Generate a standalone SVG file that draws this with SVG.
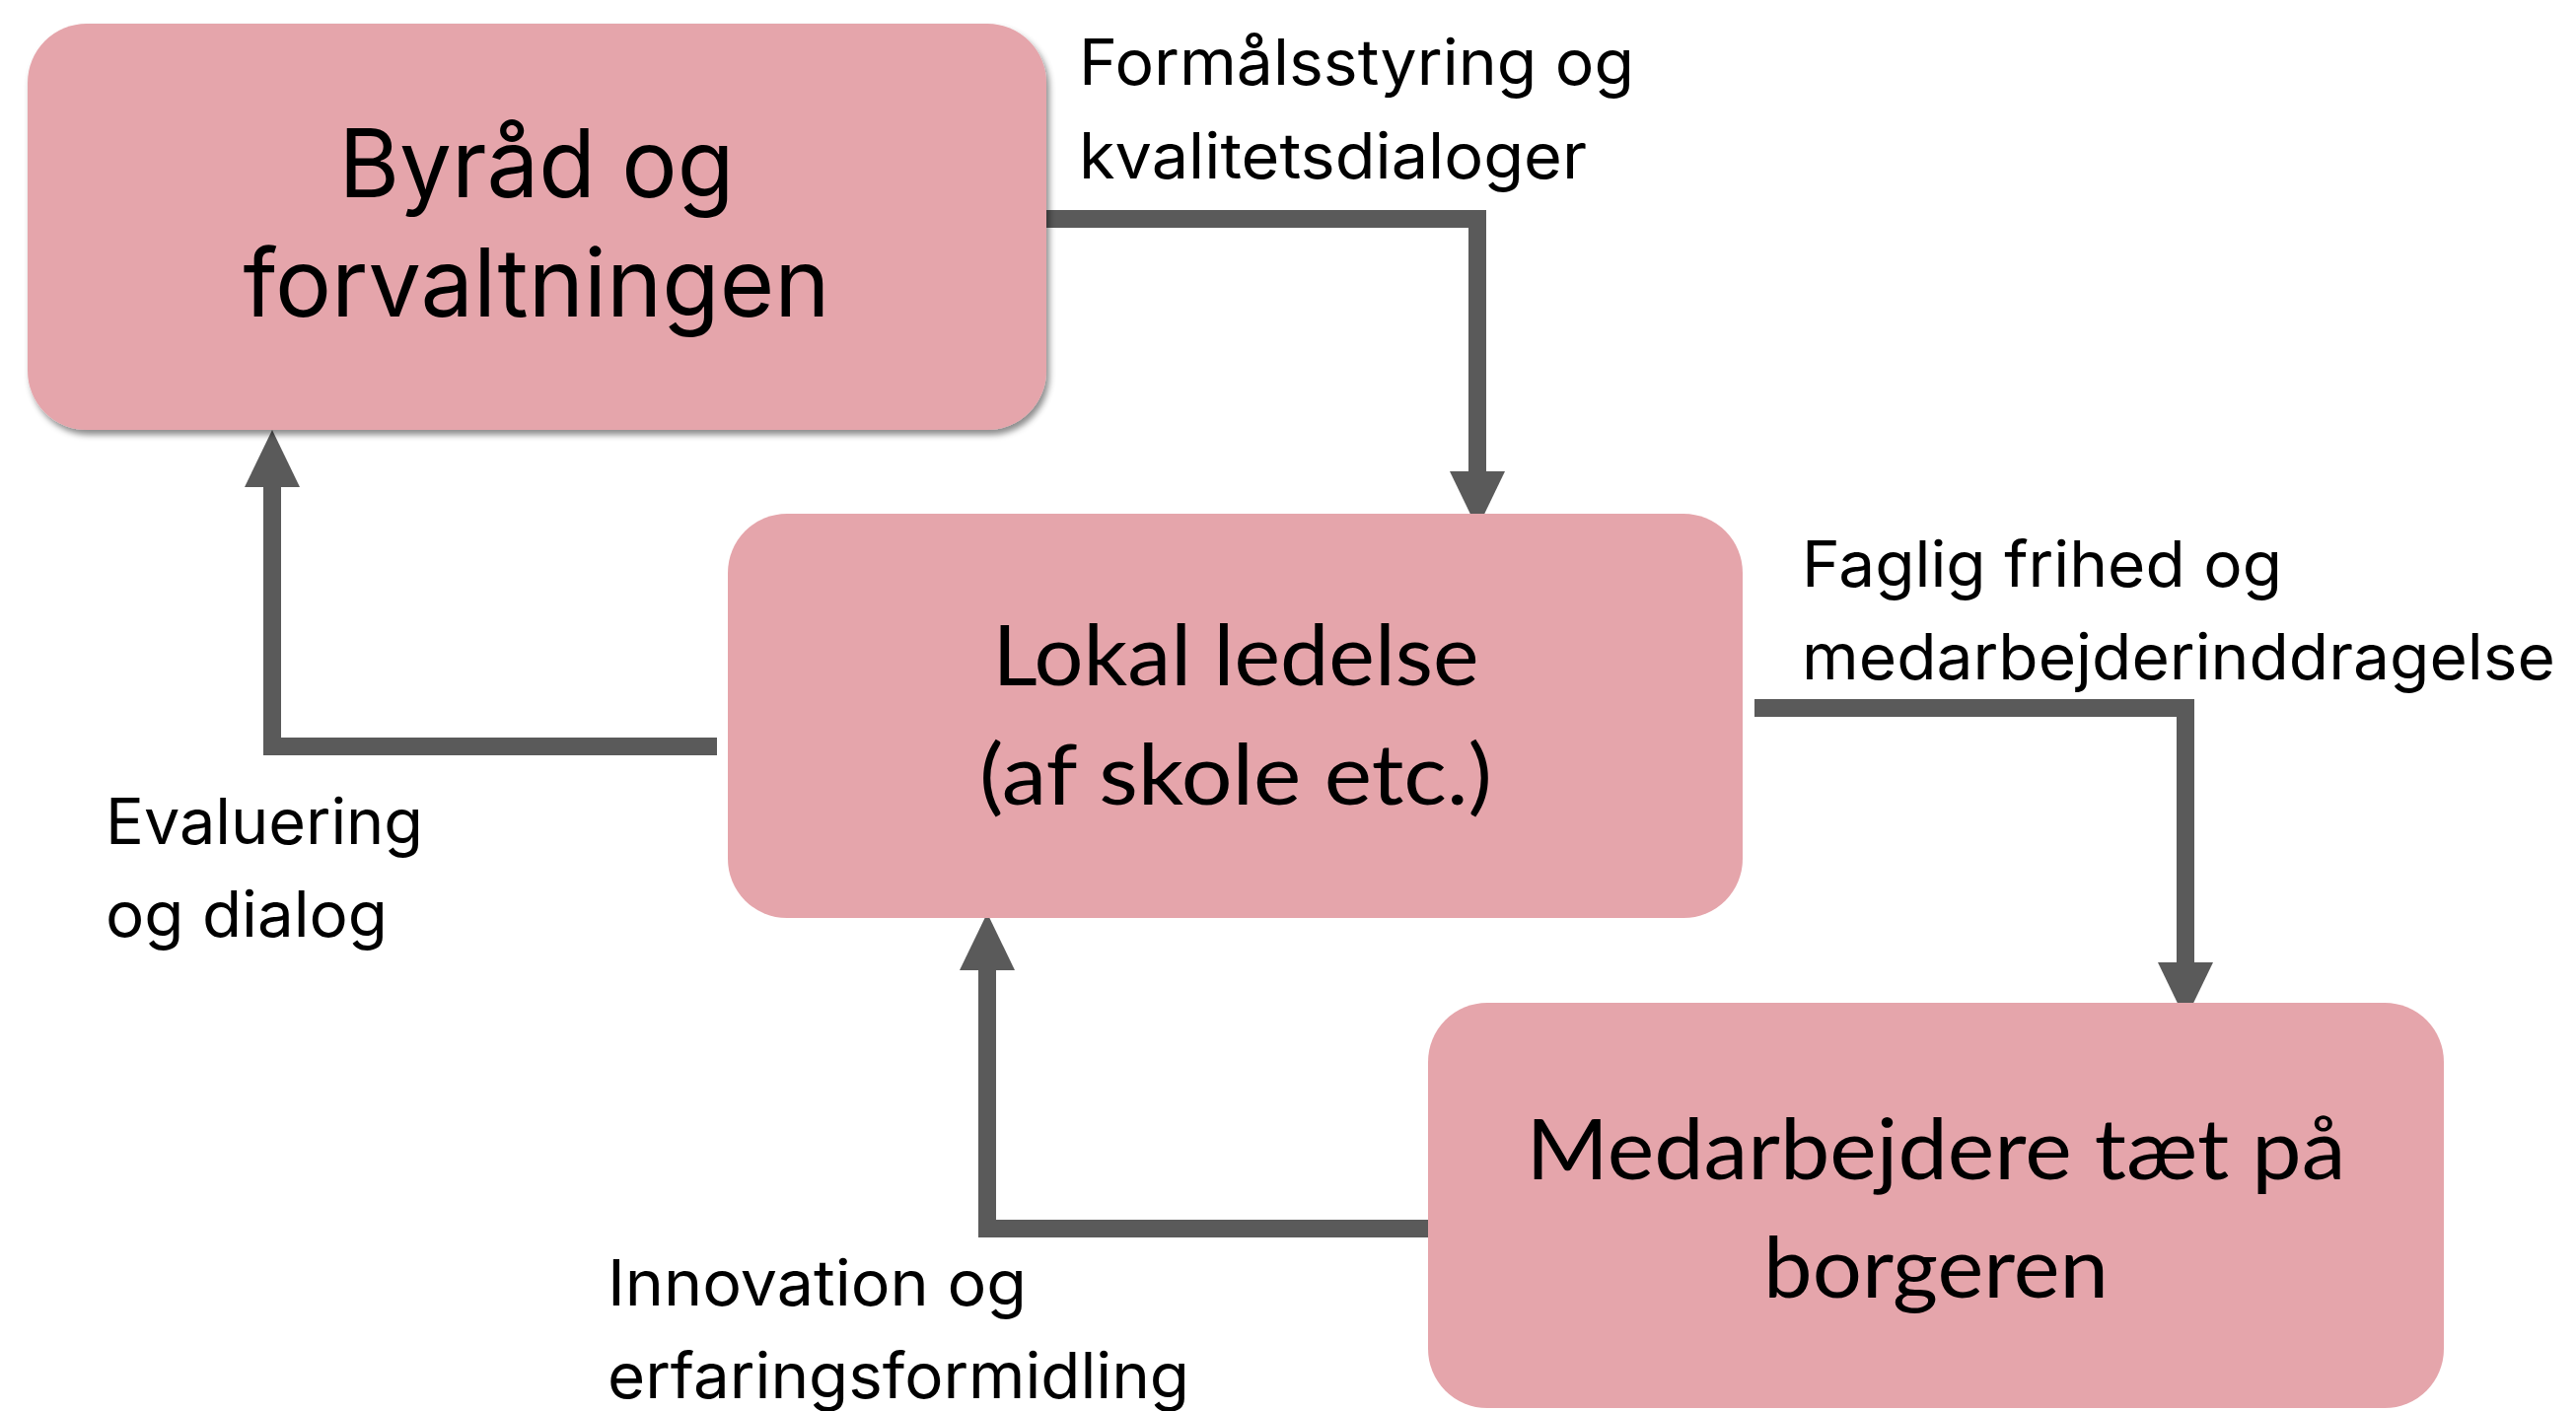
<svg xmlns="http://www.w3.org/2000/svg" width="2612" height="1431" viewBox="0 0 2612 1431">
<style>
.box{fill:#E5A5AB}
.t1{font-family:Inter,"Noto Sans",sans-serif;font-size:96px;fill:#000;text-anchor:middle}
.t2{font-family:Lato,"Noto Sans",sans-serif;font-size:86px;fill:#000;text-anchor:middle}
.lbl{font-family:Inter,"Noto Sans",sans-serif;font-size:64px;fill:#000}
.conn{fill:none;stroke:#5A5A5A;stroke-width:18;stroke-linejoin:miter;marker-end:url(#ah)}
</style>
<defs>
<filter id="sh" x="-5%" y="-5%" width="115%" height="120%">
<feDropShadow dx="3" dy="5" stdDeviation="3" flood-color="#000" flood-opacity="0.45"/>
</filter>
<marker id="ah" viewBox="0 0 58 56" refX="0" refY="28" markerWidth="58" markerHeight="56" markerUnits="userSpaceOnUse" orient="auto">
<path d="M0,0 L58,28 L0,56 Z" fill="#5A5A5A"/>
</marker>
</defs>
<rect width="2612" height="1431" fill="#fff"/>
<g id="connectors">
<path class="conn" d="M1059,222 H1498 V478"/>
<path class="conn" d="M1779,718 H2216 V976"/>
<path class="conn" d="M727,757 H276 V494"/>
<path class="conn" d="M1448,1246 H1001 V984"/>
</g>
<g id="node-byraad">
<rect class="box" x="28" y="24" width="1033" height="412" rx="60" ry="60" filter="url(#sh)"/>
<text class="t1" x="544" y="200" textLength="401" lengthAdjust="spacingAndGlyphs">Byråd og</text>
<text class="t1" x="544" y="321" textLength="595" lengthAdjust="spacingAndGlyphs">forvaltningen</text>
</g>
<g id="node-lokal">
<rect class="box" x="738" y="521" width="1029" height="410" rx="60" ry="60"/>
<text class="t2" x="1253" y="695" textLength="493" lengthAdjust="spacingAndGlyphs">Lokal ledelse</text>
<text class="t2" x="1253" y="816" textLength="520" lengthAdjust="spacingAndGlyphs">(af skole etc.)</text>
</g>
<g id="node-medarbejdere">
<rect class="box" x="1448" y="1017" width="1030" height="411" rx="60" ry="60"/>
<text class="t2" x="1963" y="1196" textLength="831" lengthAdjust="spacingAndGlyphs">Medarbejdere tæt på</text>
<text class="t2" x="1963" y="1316" textLength="350" lengthAdjust="spacingAndGlyphs">borgeren</text>
</g>
<g id="labels">
<text class="lbl" x="1094" y="86" textLength="563" lengthAdjust="spacingAndGlyphs">Formålsstyring og</text>
<text class="lbl" x="1094" y="181" textLength="515" lengthAdjust="spacingAndGlyphs">kvalitetsdialoger</text>
<text class="lbl" x="1827" y="595" textLength="487" lengthAdjust="spacingAndGlyphs">Faglig frihed og</text>
<text class="lbl" x="1827" y="689" textLength="764" lengthAdjust="spacingAndGlyphs">medarbejderinddragelse</text>
<text class="lbl" x="107" y="856" textLength="322" lengthAdjust="spacingAndGlyphs">Evaluering</text>
<text class="lbl" x="107" y="950" textLength="286" lengthAdjust="spacingAndGlyphs">og dialog</text>
<text class="lbl" x="616" y="1324" textLength="425" lengthAdjust="spacingAndGlyphs">Innovation og</text>
<text class="lbl" x="616" y="1418" textLength="590" lengthAdjust="spacingAndGlyphs">erfaringsformidling</text>
</g>
</svg>
